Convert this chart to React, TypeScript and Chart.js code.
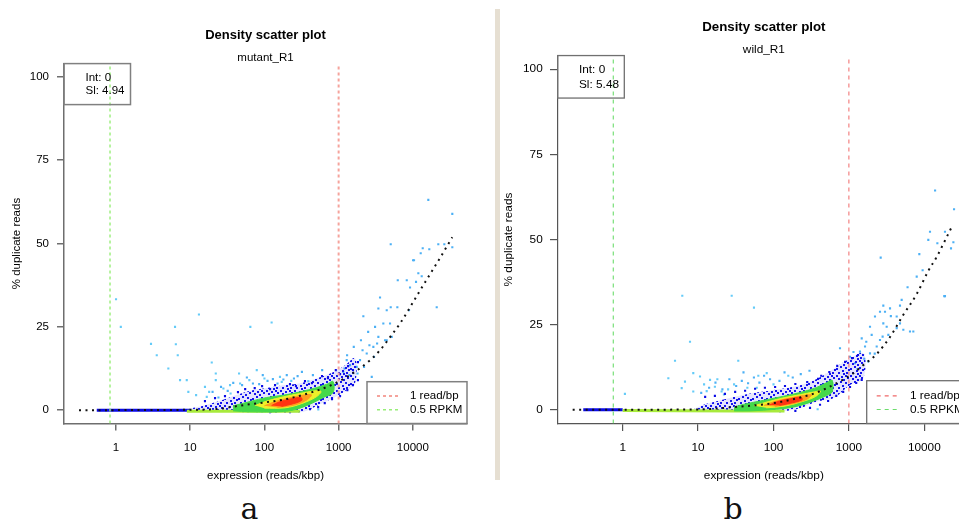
import React, { useEffect, useRef } from 'react';
import { Chart, registerables } from 'chart.js';

Chart.register(...registerables);

type Pt = [number, number];

// ---------------- shared values ----------------
const X_TICKS = [1, 10, 100, 1000, 10000];
const Y_TICKS = [0, 25, 50, 75, 100];
const Y_RANGE: Pt = [-4, 104];
const PLOT_TITLE = 'Density scatter plot';
const X_LABEL = 'expression (reads/kbp)';
const Y_LABEL = '% duplicate reads';
const LEGEND_LABELS = ['1 read/bp', '0.5 RPKM'];
const READ_BP_LINE = 1000;

// ---------------- panel a : mutant_R1 ----------------
const A_NAME = 'mutant_R1';
const A_CAPTION = 'a';
const A_FIT = ['Int: 0', 'Sl: 4.94'];
const A_X_RANGE: Pt = [0.199, 53700];
const A_RPKM_LINE = 0.83;
const A_CURVE: Pt[] = [[0.317, 0], [13.6, 0.15], [25.2, 0.45], [37.8, 1.05], [64, 1.8], [107, 2.4], [180, 3.15], [302, 4.35], [507, 5.85], [766, 7.35], [1146, 9.3], [1754, 11.9], [2650, 15.0], [3613, 18.0], [4930, 21.9], [6717, 26.0], [12500, 35.9], [23270, 45.7], [34040, 51.9]];
const A_BLUE: Pt[] = [[9.9, 0.5], [15.8, 1.5], [25.2, 2.8], [40.2, 4.4], [64, 5.8], [102, 6.6], [178, 7.5], [302, 8.1], [512, 9.6], [841, 11.4], [1220, 13.5], [1663, 15.6], [1663, 8.1], [1220, 5.7], [841, 3.6], [562, 1.8], [387, 0], [302, -0.6], [178, -0.75], [64, -0.6], [25.2, -0.45], [9.9, -0.3]];
const A_GREEN: Pt[] = [[37.8, 1.3], [64, 2.6], [107, 3.8], [180, 4.5], [302, 5.5], [507, 6.8], [692, 7.8], [841, 8.6], [841, 5.3], [622, 3.8], [412, 1.8], [272, 0.3], [180, -0.4], [64, -0.5], [37.8, -0.2]];
const A_YELLOW: Pt[] = [[75, 1.4], [110, 2.8], [180, 4.0], [300, 5.0], [480, 5.8], [580, 5.6], [500, 4.0], [320, 2.0], [190, 0.7], [100, 0.6]];
const A_ORANGE: Pt[] = [[100, 1.3], [140, 2.6], [220, 3.7], [330, 4.5], [430, 4.6], [380, 3.2], [260, 1.6], [150, 0.8]];
const A_RED: Pt[] = [[125, 1.4], [160, 2.5], [220, 3.3], [310, 3.8], [320, 3.0], [250, 2.0], [170, 1.1]];
const A_BASE_BLUE: Pt[] = [[0.55, 0], [10, 0]];
const A_BASE_GREEN: Pt[] = [[9, -0.3], [60, -0.3], [300, -0.3]];
const A_SPECKLE: Pt[] = [[15.8, 2.7], [21.6, 3.6], [29.4, 4.2], [44, 5.4], [55, 6.3], [74, 6.6], [93, 7.2], [119, 6.3], [139, 7.5], [221, 7.8], [266, 7.2], [352, 8.7], [437, 8.1], [597, 10.2], [718, 9.6], [916, 12.0], [1045, 10.8], [1340, 13.2], [1560, 12.0], [1820, 14.4], [412, 0.3], [530, 0.9], [650, 2.1], [815, 3.3], [1045, 4.2], [1310, 6.0], [1560, 7.5], [1820, 9.0], [221, -0.6], [119, -0.6]];
const A_HALO: Pt[] = [[20, 5.5], [26, 7.0], [32, 5.8], [38, 8.2], [50, 7.5], [58, 9.8], [70, 8.0], [85, 7.8], [95, 10.5], [110, 8.8], [130, 9.3], [150, 8.0], [180, 9.2], [200, 10.5], [250, 9.5], [280, 10.2], [320, 11.5], [450, 10.5], [600, 12.0], [24, 3.8]];
const A_SPRAY: Pt[] = [[1156, 11.5], [1285, 15.0], [1425, 13.5], [1754, 13.0], [1942, 15.0], [2391, 17.0], [2795, 10.0], [2937, 19.0], [3097, 25.0], [3431, 22.0], [3613, 33.8], [4003, 26.0], [4220, 21.0], [4448, 21.0], [4928, 26.0], [5198, 22.0], [2153, 28.2], [3431, 30.5], [5035, 30.9], [6183, 30.9], [6265, 39.0], [10380, 45.0], [11040, 38.5], [9165, 36.8], [20980, 30.9], [16170, 63.1], [34040, 58.9], [5035, 49.8], [12770, 47.1], [13590, 48.6], [16670, 48.3], [22040, 49.8], [26560, 49.8], [34040, 48.9], [8281, 39.0], [8894, 30.0], [11860, 41.1], [13170, 40.2], [10070, 45.0], [4448, 30.0], [1600, 19.0], [1300, 16.5], [2000, 21.0], [2500, 23.5], [1800, 11.0], [1400, 10.5], [2200, 13.0], [2600, 19.5], [3000, 16.0], [3300, 20.0], [2100, 18.0], [1200, 12.5]];
const A_OUTLIERS: Pt[] = [[1.0, 33.3], [1.16, 25.0], [2.96, 19.9], [3.54, 16.5], [5.07, 12.5], [6.24, 25.0], [6.4, 19.8], [6.79, 16.5], [7.29, 9.0], [8.98, 9.0], [9.43, 5.5], [13.1, 28.7], [15.8, 7.0], [16.7, 4.0], [19.5, 14.3], [22.1, 11.0], [22.1, 9.0], [34.4, 7.5], [45.5, 11.0], [47, 8.0], [62.6, 9.0], [64.6, 25.0], [78.8, 12.0], [125, 26.3], [162, 10.0], [171, 8.5], [390, 8.7], [532, 0.2], [100, 9.5], [230, 8.8], [35, 5.0], [28, 6.5], [18, 5.5], [12, 4.5]];

// ---------------- panel b : wild_R1 ----------------
const B_NAME = 'wild_R1';
const B_CAPTION = 'b';
const B_FIT = ['Int: 0', 'Sl: 5.48'];
const B_X_RANGE: Pt = [0.1374, 40370];
const B_RPKM_LINE = 0.75;
const B_CURVE: Pt[] = [[0.217, 0], [10.6, 0.15], [29, 0.8], [66.2, 1.5], [122, 2.3], [205, 3.4], [334, 4.7], [512, 6.4], [762, 8.4], [1133, 10.7], [1538, 13.1], [2337, 16.4], [3510, 21.4], [5270, 27.9], [7930, 34.0], [11300, 40.8], [14600, 44.9], [19800, 50.7], [23500, 54.0]];
const B_BLUE: Pt[] = [[9, 0.4], [13, 1.8], [23.9, 3.3], [48.8, 4.8], [99.4, 5.8], [225, 7.2], [414, 9.6], [621, 12.0], [935, 14.5], [1552, 16.6], [1552, 9.3], [1035, 7.3], [621, 3.4], [374, 2.4], [225, 0.5], [135, -0.3], [35.9, -0.5], [9, -0.4]];
const B_GREEN: Pt[] = [[30, 0.8], [39.8, 1.6], [81.3, 3.0], [135, 4.0], [225, 5.1], [374, 6.6], [508, 8.0], [600, 8.7], [600, 5.3], [508, 4.2], [305, 2.2], [183, 0.8], [110, 0.2], [48.8, -0.3], [30, -0.3]];
const B_YELLOW: Pt[] = [[55, 1.2], [85, 2.4], [140, 3.6], [230, 4.5], [350, 5.3], [420, 5.5], [360, 3.9], [230, 2.3], [140, 1.1], [80, 0.6]];
const B_ORANGE: Pt[] = [[75, 1.3], [105, 2.5], [160, 3.4], [250, 4.2], [320, 4.4], [270, 3.0], [170, 1.7], [105, 1.0]];
const B_RED: Pt[] = [[90, 1.5], [120, 2.6], [170, 3.3], [230, 3.7], [240, 3.0], [180, 2.1], [120, 1.3]];
const B_BASE_BLUE: Pt[] = [[0.3, 0], [1.0, 0]];
const B_BASE_GREEN: Pt[] = [[1.0, -0.2], [30, -0.3], [140, -0.3]];
const B_SPECKLE: Pt[] = [[12.4, 3.8], [16.7, 4.1], [22.7, 4.7], [31.0, 5.3], [42.0, 5.6], [57, 6.2], [77, 6.5], [105, 6.7], [142, 7.0], [195, 7.6], [280, 8.2], [390, 9.1], [430, 10.0], [550, 11.1], [700, 12.9], [890, 14.1], [1100, 15.2], [1320, 16.1], [305, 0.6], [414, 1.5], [530, 2.6], [680, 4.1], [840, 5.3], [1035, 6.7], [1250, 7.9], [1480, 8.8], [195, -0.3], [122, -0.4]];
const B_HALO: Pt[] = [[11, 5.0], [14, 6.5], [17, 8.0], [21, 6.0], [26, 9.0], [32, 7.0], [38, 8.5], [46, 7.8], [55, 9.5], [65, 8.0], [75, 10.0], [90, 9.0], [120, 8.5], [140, 11.0], [180, 9.5], [230, 10.5], [300, 11.5], [40, 11.0]];
const B_SPRAY: Pt[] = [[18800, 33.4], [13900, 64.4], [24800, 58.9], [11900, 52.3], [18800, 52.3], [24300, 49.2], [14900, 48.9], [22600, 47.4], [11300, 49.9], [2640, 44.7], [8590, 45.7], [18400, 33.4], [7930, 39.1], [5010, 32.3], [2860, 30.6], [3510, 29.8], [4761, 30.6], [2585, 28.8], [2218, 27.4], [4303, 27.4], [6460, 23.0], [3170, 24.4], [3333, 22.0], [1905, 24.4], [2005, 22.0], [1479, 21.0], [2585, 20.5], [2337, 18.6], [1636, 18.6], [1403, 17.1], [1905, 16.6], [762, 18.1], [1035, 15.6], [1808, 14.2], [1207, 13.7], [4761, 25.4], [4303, 24.0], [2860, 25.4], [5270, 23.5], [3011, 28.8], [7150, 23.0], [1300, 12.0], [1600, 15.0], [2200, 16.5], [2800, 21.5], [1150, 17.0], [3600, 27.5], [6000, 36.0], [9500, 41.0], [1700, 20.0]];
const B_OUTLIERS: Pt[] = [[6.17, 33.5], [27.9, 33.5], [55.1, 30.0], [7.81, 20.0], [4.94, 14.4], [4.03, 9.3], [1.07, 4.7], [6.06, 6.4], [6.70, 8.3], [8.63, 10.8], [10.6, 9.8], [14.4, 8.8], [8.63, 5.4], [34.1, 14.4], [62.9, 10.0], [81.3, 10.8], [157, 10.0], [16.7, 6.8], [20.5, 5.4], [385, 0.2], [12, 7.5], [18, 9.0], [25, 6.0], [30, 7.5], [45, 6.5], [22, 4.5], [100, 7.5], [60, 6.5], [13, 5.5]];

// ---------------- styles ----------------
const SANS = '"Liberation Sans", Arial, Helvetica, sans-serif';
const C_BLUE_PT = '#0a0ae6';
const C_GREEN = '#45d84a';
const C_YELLOW = '#eef02a';
const C_ORANGE = '#ff9c1e';
const C_RED = '#ff3412';
const C_BASE_GREEN = '#a8ea3c';
const C_SPRAY = '#4cb0f5';
const C_OUT = '#64cbf8';

// irregular speckle texture used to paint the dark-blue low-density zone
const SPECKLE_TILE = [[0, 0], [5, 1], [9, 0], [2, 3], [7, 4], [11, 2], [4, 6], [9, 7], [0, 8], [6, 10], [12, 9], [2, 12], [10, 12], [7, 13]];
function speckle(): CanvasPattern | string {
  const c = document.createElement('canvas');
  c.width = 14; c.height = 15;
  const g = c.getContext('2d');
  if (!g) return 'rgba(12,12,228,0.5)';
  g.fillStyle = 'rgba(30,30,240,0.12)';
  g.fillRect(0, 0, 14, 15);
  g.fillStyle = '#1414ee';
  SPECKLE_TILE.forEach(([x, y]) => g.fillRect(x, y, 2, 2));
  return g.createPattern(c, 'repeat') || 'rgba(12,12,228,0.5)';
}

interface Spec {
  name: string; fit: string[]; xRange: Pt; rpkm: number;
  curve: Pt[]; blue: Pt[]; green: Pt[]; yellow: Pt[]; orange: Pt[]; red: Pt[];
  baseBlue: Pt[]; baseGreen: Pt[]; speckle: Pt[]; halo: Pt[]; spray: Pt[]; outliers: Pt[];
  left: number; width: number; height: number;
  padTop: number; padRight: number; yAxisW: number; xAxisH: number;
  titleSize: number; subSize: number; size: number; titleGap: number; subGap: number;
  yTickLen: number; yTickPad: number; yTitlePad: number;
  xTickLen: number; xTickPad: number; xTitlePad: number;
  axisColor: string; axisWidth: number;
  redColor: string; greenColor: string; redWidth: number; greenWidth: number; dash: number[];
  tlW: number; tlH: number; tlTextX: number; tlRows: number[];
  brW: number; brH: number; brLine: number[]; brTextX: number; brRows: number[];
  boxColor: string; boxWidth: number;
}

const A_SPEC: Spec = {
  name: A_NAME, fit: A_FIT, xRange: A_X_RANGE, rpkm: A_RPKM_LINE,
  curve: A_CURVE, blue: A_BLUE, green: A_GREEN, yellow: A_YELLOW, orange: A_ORANGE, red: A_RED,
  baseBlue: A_BASE_BLUE, baseGreen: A_BASE_GREEN, speckle: A_SPECKLE, halo: A_HALO, spray: A_SPRAY, outliers: A_OUTLIERS,
  left: 0, width: 496, height: 490,
  padTop: 28, padRight: 29, yAxisW: 64, xAxisH: 66.5,
  titleSize: 13, subSize: 11.5, size: 11.5, titleGap: 8.5, subGap: 0,
  yTickLen: 7, yTickPad: 8, yTitlePad: 9.8,
  xTickLen: 7, xTickPad: 10, xTitlePad: 7.6,
  axisColor: '#6e6e6e', axisWidth: 1.5,
  redColor: '#f5a39c', greenColor: '#98ee78', redWidth: 2, greenWidth: 1.4, dash: [3, 3],
  tlW: 66.5, tlH: 41, tlTextX: 21.5, tlRows: [14.2, 27.2],
  brW: 100, brH: 41.8, brLine: [10, 31], brTextX: 43, brRows: [27.5, 13.7],
  boxColor: '#808080', boxWidth: 1.5,
};

const B_SPEC: Spec = {
  name: B_NAME, fit: B_FIT, xRange: B_X_RANGE, rpkm: B_RPKM_LINE,
  curve: B_CURVE, blue: B_BLUE, green: B_GREEN, yellow: B_YELLOW, orange: B_ORANGE, red: B_RED,
  baseBlue: B_BASE_BLUE, baseGreen: B_BASE_GREEN, speckle: B_SPECKLE, halo: B_HALO, spray: B_SPRAY, outliers: B_OUTLIERS,
  left: 500, width: 500, height: 490,
  padTop: 19.3, padRight: 30, yAxisW: 57.7, xAxisH: 66.5,
  titleSize: 13.3, subSize: 11.8, size: 11.8, titleGap: 8.5, subGap: 0,
  yTickLen: 7.7, yTickPad: 7.3, yTitlePad: 1.5,
  xTickLen: 7.5, xTickPad: 9.4, xTitlePad: 7,
  axisColor: '#555555', axisWidth: 1.2,
  redColor: '#f06868', greenColor: '#6cdc6c', redWidth: 1, greenWidth: 1.1, dash: [4, 4],
  tlW: 66.6, tlH: 42.5, tlTextX: 21.3, tlRows: [14.3, 28.7],
  brW: 103.3, brH: 42.8, brLine: [10, 31.6], brTextX: 43.3, brRows: [27.7, 14],
  boxColor: '#707070', boxWidth: 1.3,
};

const xy = (pts: Pt[]) => pts.map(([x, y]) => ({ x, y }));

function pointsDs(pts: Pt[], color: string, r = 1.5) {
  return {
    data: xy(pts), showLine: false, pointStyle: 'rect', pointRadius: r,
    pointHoverRadius: r, pointBackgroundColor: color, pointBorderWidth: 0, pointBorderColor: color,
  };
}
function polyDs(pts: Pt[], color: any, border = true) {
  return {
    data: xy(pts), showLine: true, fill: 'shape', backgroundColor: color,
    borderColor: border ? color : 'rgba(0,0,0,0)', borderWidth: 1, pointRadius: 0, pointHoverRadius: 0, tension: 0.35,
  };
}
function lineDs(pts: Pt[], color: string, width: number, dash: number[] = []) {
  return {
    data: xy(pts), showLine: true, fill: false, borderColor: color, borderWidth: width,
    borderDash: dash, pointRadius: 0, pointHoverRadius: 0, tension: 0,
  };
}

function makeBoxPlugin(s: Spec) {
  return {
    id: 'fitBoxes',
    afterDatasetsDraw(chart: any) {
      const { ctx, chartArea: a } = chart;
      ctx.save();
      ctx.font = `${s.size}px ${SANS}`;
      ctx.textBaseline = 'middle';
      ctx.textAlign = 'left';
      ctx.strokeStyle = s.boxColor;
      ctx.lineWidth = s.boxWidth;
      ctx.strokeRect(a.left, a.top, s.tlW, s.tlH);
      ctx.fillStyle = '#000';
      s.fit.forEach((t, i) => ctx.fillText(t, a.left + s.tlTextX, a.top + s.tlRows[i]));
      const lx = a.right - s.brW;
      const ly = a.bottom - s.brH;
      ctx.fillStyle = '#fff';
      ctx.fillRect(lx, ly, s.brW, s.brH);
      ctx.strokeRect(lx, ly, s.brW, s.brH);
      const cols = [s.redColor, s.greenColor];
      const widths = [s.redWidth, s.greenWidth];
      LEGEND_LABELS.forEach((t, i) => {
        const yy = a.bottom - s.brRows[i];
        ctx.save();
        ctx.strokeStyle = cols[i];
        ctx.lineWidth = Math.max(widths[i], 1.2);
        ctx.setLineDash(s.dash);
        ctx.beginPath();
        ctx.moveTo(lx + s.brLine[0], yy);
        ctx.lineTo(lx + s.brLine[1], yy);
        ctx.stroke();
        ctx.restore();
        ctx.fillStyle = '#000';
        ctx.fillText(t, lx + s.brTextX, yy);
      });
      ctx.restore();
    },
  };
}

function buildConfig(s: Spec): any {
  const font = { family: SANS, size: s.size, lineHeight: 1.2 };
  const datasets = [
    lineDs([[READ_BP_LINE, Y_RANGE[0]], [READ_BP_LINE, Y_RANGE[1]]], s.redColor, s.redWidth, s.dash),
    lineDs([[s.rpkm, Y_RANGE[0]], [s.rpkm, Y_RANGE[1]]], s.greenColor, s.greenWidth, s.dash),
    { ...lineDs(s.curve, '#111111', 2, [2, 4.5]), tension: 0.4, cubicInterpolationMode: 'monotone' },
    polyDs(s.red, C_RED),
    polyDs(s.orange, C_ORANGE),
    polyDs(s.yellow, C_YELLOW),
    polyDs(s.green, C_GREEN),
    lineDs(s.baseGreen, C_BASE_GREEN, 3),
    lineDs(s.baseBlue, C_BLUE_PT, 3),
    pointsDs(s.speckle, C_BLUE_PT),
    polyDs(s.blue, speckle(), false),
    pointsDs(s.halo, C_SPRAY),
    pointsDs(s.spray, C_SPRAY),
    pointsDs(s.outliers, C_OUT),
  ];
  return {
    type: 'scatter',
    data: { datasets },
    options: {
      animation: false,
      responsive: false,
      maintainAspectRatio: false,
      devicePixelRatio: 1,
      events: [],
      layout: { padding: { top: s.padTop, left: 0, right: s.padRight, bottom: 0 } },
      plugins: {
        legend: { display: false },
        tooltip: { enabled: false },
        title: {
          display: true, text: PLOT_TITLE, fullSize: false, color: '#000',
          font: { family: SANS, size: s.titleSize, weight: 'bold', lineHeight: 1.2 },
          padding: { top: 0, bottom: s.titleGap },
        },
        subtitle: {
          display: true, text: s.name, fullSize: false, color: '#000',
          font: { family: SANS, size: s.subSize, lineHeight: 1.0 },
          padding: { top: 0, bottom: s.subGap },
        },
      },
      scales: {
        x: {
          type: 'logarithmic', min: s.xRange[0], max: s.xRange[1],
          afterBuildTicks: (sc: any) => { sc.ticks = X_TICKS.map((v) => ({ value: v })); },
          afterFit: (sc: any) => { sc.height = s.xAxisH; },
          ticks: { callback: (v: any) => String(v), color: '#000', font, padding: s.xTickPad, autoSkip: false, maxRotation: 0, minRotation: 0 },
          grid: { drawOnChartArea: false, drawTicks: true, tickLength: s.xTickLen, color: s.axisColor, lineWidth: s.axisWidth },
          border: { display: true, color: s.axisColor, width: s.axisWidth },
          title: { display: true, text: X_LABEL, color: '#000', font, padding: { top: 0, bottom: s.xTitlePad } },
        },
        y: {
          type: 'linear', min: Y_RANGE[0], max: Y_RANGE[1],
          afterBuildTicks: (sc: any) => { sc.ticks = Y_TICKS.map((v) => ({ value: v })); },
          afterFit: (sc: any) => { sc.width = s.yAxisW; },
          ticks: { callback: (v: any) => String(v), color: '#000', font, padding: s.yTickPad, autoSkip: false },
          grid: { drawOnChartArea: false, drawTicks: true, tickLength: s.yTickLen, color: s.axisColor, lineWidth: s.axisWidth },
          border: { display: true, color: s.axisColor, width: s.axisWidth },
          title: { display: true, text: Y_LABEL, color: '#000', font, padding: { top: s.yTitlePad, bottom: 0 } },
        },
      },
    },
    plugins: [makeBoxPlugin(s)],
  };
}

function Panel({ spec }: { spec: Spec }) {
  const ref = useRef<HTMLCanvasElement>(null);
  useEffect(() => {
    if (!ref.current) return;
    const chart = new Chart(ref.current, buildConfig(spec));
    return () => chart.destroy();
  }, [spec]);
  return (
    <canvas
      ref={ref}
      width={spec.width}
      height={spec.height}
      style={{ position: 'absolute', left: spec.left, top: 0, width: spec.width, height: spec.height }}
    />
  );
}

const captionStyle = (center: number): React.CSSProperties => ({
  position: 'absolute', left: center - 30, width: 60, top: 494, textAlign: 'center',
  fontFamily: '"DejaVu Serif", "Liberation Serif", serif', fontSize: 30, lineHeight: '30px', color: '#111',
});

export default function App() {
  return (
    <div style={{ position: 'fixed', left: 0, top: 0, width: 959, height: 522, overflow: 'hidden', background: '#fff' }}>
      <Panel spec={A_SPEC} />
      <Panel spec={B_SPEC} />
      <div style={{ position: 'absolute', left: 495, top: 9, width: 5, height: 471, background: '#e6dfd2' }} />
      <div style={captionStyle(249.5)}>{A_CAPTION}</div>
      <div style={captionStyle(733)}>{B_CAPTION}</div>
    </div>
  );
}
